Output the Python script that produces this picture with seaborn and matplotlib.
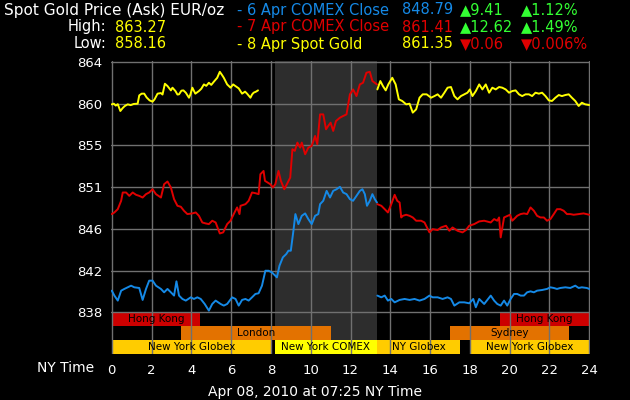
import matplotlib
matplotlib.use("Agg")
import matplotlib.pyplot as plt
import numpy as np
import seaborn as sns

# 8 Apr spot gold (yellow): overnight part, then the part after COMEX close
spot_hours_a = [0.00, 0.10, 0.20, 0.30, 0.43, 0.55, 0.65, 0.80, 0.95, 1.10, 1.30, 1.38, 1.50, 1.63, 1.75,
                1.90, 2.05, 2.15, 2.30, 2.47, 2.55, 2.67, 2.80, 2.97, 3.05, 3.20, 3.30, 3.38, 3.50, 3.60,
                3.72, 3.88, 3.95, 4.05, 4.20, 4.38, 4.50, 4.63, 4.75, 4.88, 5.00, 5.13, 5.30, 5.43, 5.55,
                5.63, 5.80, 5.97, 6.10, 6.20, 6.38, 6.55, 6.70, 6.80, 6.97, 7.05, 7.13, 7.25, 7.35]
spot_price_a = [859.58, 859.65, 859.45, 859.60, 858.89, 859.20, 859.40, 859.58, 859.50, 859.62, 859.65, 860.51,
                860.69, 860.69, 860.30, 859.99, 859.86, 860.10, 860.69, 860.75, 860.60, 861.72, 861.48, 861.03,
                861.31, 860.96, 860.60, 860.62, 861.00, 861.03, 860.79, 860.27, 860.60, 861.31, 860.69, 860.96,
                861.20, 861.65, 861.50, 861.82, 861.60, 861.93, 862.34, 862.96, 862.60, 862.34, 861.65, 861.31,
                861.65, 861.50, 861.24, 860.69, 860.90, 860.69, 860.27, 860.60, 860.79, 860.90, 861.03]
spot_hours_b = [13.35, 13.50, 13.63, 13.77, 13.90, 14.10, 14.27, 14.43, 14.60, 14.80, 14.97, 15.13, 15.30,
                15.47, 15.63, 15.83, 16.05, 16.22, 16.38, 16.55, 16.72, 16.88, 17.05, 17.22, 17.38, 17.55,
                17.72, 17.88, 18.00, 18.13, 18.30, 18.47, 18.63, 18.80, 18.97, 19.13, 19.30, 19.47, 19.63,
                19.80, 19.97, 20.13, 20.30, 20.47, 20.63, 20.80, 20.97, 21.13, 21.30, 21.47, 21.63, 21.80,
                21.97, 22.13, 22.30, 22.47, 22.63, 22.80, 22.97, 23.13, 23.30, 23.47, 23.63, 23.80, 24.00]
spot_price_b = [861.13, 862.00, 861.48, 861.03, 861.65, 862.34, 861.65, 860.10, 859.93, 859.58, 859.65, 858.72,
                859.06, 860.27, 860.62, 860.62, 860.27, 860.44, 860.62, 860.27, 860.79, 861.31, 861.38, 860.44,
                860.10, 860.44, 860.62, 860.79, 861.13, 860.44, 860.96, 861.65, 861.13, 861.65, 860.79, 861.31,
                861.13, 861.38, 861.31, 861.13, 860.79, 860.96, 861.03, 860.62, 860.44, 860.62, 860.62, 860.44,
                860.79, 860.69, 860.79, 860.44, 859.99, 859.93, 860.27, 860.55, 860.44, 860.55, 860.62, 860.27,
                859.93, 859.41, 859.75, 859.58, 859.51]

# 7 Apr COMEX close (red)
close7_hours_a = [0.00, 0.13, 0.30, 0.47, 0.55, 0.72, 0.88, 1.05, 1.22, 1.38, 1.55, 1.72, 1.88, 2.05, 2.22,
                  2.47, 2.63, 2.80, 2.97, 3.13, 3.30, 3.47, 3.63, 3.80, 4.05, 4.22, 4.38, 4.55, 4.72, 4.88,
                  5.05, 5.22, 5.43, 5.60, 5.80, 5.97, 6.13, 6.30, 6.42, 6.47, 6.72, 6.88, 7.05, 7.22, 7.38,
                  7.47, 7.63, 7.70, 7.97, 8.10, 8.22, 8.38, 8.50, 8.67, 8.80, 8.97, 9.08, 9.20, 9.33, 9.47,
                  9.55, 9.72, 9.88, 10.05, 10.22, 10.33, 10.47, 10.63, 10.77, 10.88, 11.00, 11.13, 11.27,
                  11.47, 11.63, 11.80, 11.97, 12.13, 12.30, 12.47, 12.63, 12.80, 12.97, 13.10, 13.22, 13.33]
close7_price_a = [848.19, 848.36, 848.70, 849.57, 850.43, 850.43, 850.08, 850.43, 850.19, 850.08, 849.91,
                  850.26, 850.43, 850.77, 850.26, 849.91, 851.29, 851.57, 850.95, 849.74, 849.05, 848.95,
                  848.53, 848.19, 848.26, 848.36, 848.01, 847.32, 847.22, 847.15, 847.50, 847.32, 846.18,
                  846.29, 847.15, 847.50, 848.19, 848.88, 848.19, 849.05, 849.22, 849.57, 850.43, 850.36,
                  850.26, 852.33, 852.67, 851.64, 851.29, 850.95, 851.29, 852.67, 851.64, 850.77, 851.29,
                  851.98, 854.92, 854.75, 855.61, 855.09, 855.61, 854.40, 855.09, 855.26, 856.30, 855.44,
                  858.54, 858.54, 856.99, 857.34, 857.68, 856.82, 857.85, 858.20, 858.37, 858.54, 860.62,
                  861.13, 860.44, 861.65, 861.82, 862.86, 862.96, 862.00, 861.82, 861.65]
close7_hours_b = [13.35, 13.55, 13.72, 13.88, 14.05, 14.22, 14.35, 14.47, 14.55, 14.63, 14.80, 14.97, 15.13,
                  15.30, 15.55, 15.72, 15.97, 16.13, 16.38, 16.55, 16.80, 16.97, 17.13, 17.38, 17.63, 17.80,
                  17.97, 18.22, 18.47, 18.72, 19.05, 19.22, 19.38, 19.47, 19.55, 19.72, 19.90, 20.02, 20.13,
                  20.22, 20.38, 20.55, 20.72, 20.88, 21.05, 21.22, 21.38, 21.55, 21.72, 21.88, 22.05, 22.22,
                  22.38, 22.55, 22.72, 22.88, 23.05, 23.22, 23.47, 23.72, 24.00]
close7_price_b = [849.22, 849.05, 848.70, 848.36, 849.22, 850.19, 849.57, 849.39, 847.84, 848.01, 848.12,
                  848.01, 847.84, 847.50, 847.50, 847.32, 846.29, 846.63, 846.53, 846.80, 846.98, 846.46,
                  846.80, 846.46, 846.29, 846.53, 846.98, 847.15, 847.43, 847.50, 847.32, 847.67, 847.50,
                  847.84, 845.77, 847.84, 848.01, 848.12, 847.50, 847.67, 848.01, 848.19, 848.26, 848.19,
                  848.88, 848.53, 848.01, 847.84, 847.84, 847.50, 847.67, 848.19, 848.70, 848.70, 848.53,
                  848.19, 848.19, 848.12, 848.19, 848.26, 848.12]

# 6 Apr COMEX close (blue)
close6_hours_a = [0.00, 0.13, 0.30, 0.47, 0.63, 0.80, 0.97, 1.13, 1.38, 1.55, 1.72, 1.88, 2.05, 2.22, 2.47,
                  2.63, 2.80, 2.97, 3.13, 3.25, 3.38, 3.55, 3.72, 3.97, 4.13, 4.30, 4.47, 4.67, 4.88, 5.05,
                  5.22, 5.47, 5.63, 5.80, 6.05, 6.22, 6.38, 6.55, 6.72, 6.88, 7.05, 7.22, 7.38, 7.55, 7.72,
                  7.88, 8.05, 8.30, 8.43, 8.60, 8.77, 8.88, 9.00, 9.13, 9.23, 9.38, 9.55, 9.72, 9.88, 10.05,
                  10.22, 10.38, 10.47, 10.63, 10.80, 10.97, 11.13, 11.30, 11.47, 11.63, 11.80, 11.97, 12.13,
                  12.30, 12.47, 12.60, 12.72, 12.83, 12.97, 13.10, 13.22, 13.33]
close6_price_a = [840.24, 839.73, 839.21, 840.24, 840.42, 840.59, 840.76, 840.59, 840.52, 839.28, 840.42,
                  841.28, 841.28, 840.76, 840.42, 840.07, 840.42, 840.07, 839.73, 841.21, 839.73, 839.38,
                  839.21, 839.55, 839.38, 839.55, 839.38, 838.86, 838.17, 838.86, 839.21, 838.86, 838.69,
                  838.86, 839.55, 839.38, 838.69, 839.28, 839.38, 839.21, 839.55, 839.90, 839.97, 840.76,
                  842.31, 842.31, 842.14, 841.62, 842.83, 843.70, 844.04, 844.39, 844.39, 846.46, 848.19,
                  847.15, 848.01, 848.26, 847.67, 847.15, 848.01, 848.19, 849.22, 849.57, 850.60, 849.91,
                  850.60, 850.77, 851.02, 850.43, 850.26, 849.74, 849.57, 850.08, 850.60, 850.77, 850.26,
                  849.05, 849.57, 850.26, 849.74, 849.39]
close6_hours_b = [13.35, 13.55, 13.72, 13.88, 14.05, 14.22, 14.47, 14.72, 14.97, 15.22, 15.47, 15.72, 15.97,
                  16.13, 16.38, 16.63, 16.88, 17.05, 17.22, 17.47, 17.72, 17.97, 18.17, 18.30, 18.47, 18.72,
                  19.05, 19.22, 19.38, 19.55, 19.72, 19.88, 20.05, 20.22, 20.38, 20.55, 20.72, 20.88, 21.05,
                  21.22, 21.38, 21.63, 21.88, 22.05, 22.22, 22.38, 22.55, 22.80, 23.05, 23.30, 23.47, 23.63,
                  23.88, 24.00]
close6_price_b = [839.73, 839.55, 839.73, 839.21, 839.38, 839.03, 839.28, 839.38, 839.28, 839.38, 839.21,
                  839.38, 839.73, 839.55, 839.55, 839.38, 839.55, 839.38, 838.69, 839.03, 839.03, 838.93,
                  839.38, 838.52, 839.38, 838.86, 839.73, 839.21, 838.86, 838.69, 839.21, 838.69, 839.38,
                  839.90, 839.90, 839.73, 839.73, 840.07, 840.17, 840.07, 840.24, 840.31, 840.42, 840.59,
                  840.52, 840.42, 840.52, 840.59, 840.52, 840.76, 840.52, 840.59, 840.52, 840.42]

# trading sessions shown as bars under the price lines
session_names = ["Hong Kong", "London", "New York Globex", "New York COMEX", "NY Globex",
                 "Sydney", "Hong Kong", "New York Globex"]
session_start = [0.0, 3.5, 0.0, 8.2, 13.33, 17.0, 19.5, 18.0]
session_end = [4.42, 11.0, 8.0, 13.33, 17.5, 23.0, 24.0, 24.0]
session_row = [0, 1, 2, 2, 2, 1, 0, 2]
session_color = ["#cc0000", "#e37200", "#ffcc00", "#ffff00", "#ffcc00", "#e37200", "#cc0000", "#ffcc00"]

comex_open, comex_close = 8.2, 13.33

y_ticks = [838, 842.333, 846.667, 851, 855.333, 859.667, 864]
y_tick_labels = ["838", "842", "846", "851", "855", "860", "864"]
x_ticks = list(range(0, 25, 2))

BLUE = "#1589e6"
RED = "#e00000"
YELLOW = "#ffff00"
GREEN = "#33ff33"
WHITE = "#ffffff"

sns.set_style("dark", {"axes.facecolor": "black", "figure.facecolor": "black"})
plt.rcParams["font.family"] = ["DejaVu Sans"]

fig = plt.figure(figsize=(6.3, 4.0), dpi=100)
ax = fig.add_axes([111 / 630, 1 - 354 / 400, 479 / 630, 293 / 400])

row_h = (y_ticks[1] - y_ticks[0]) / 3
y_bottom = 838 - 3 * row_h

# COMEX session shading
ax.axvspan(comex_open, comex_close, color="#2d2d2d", zorder=0.2, lw=0)

# session bars
for name, s, e, r, c in zip(session_names, session_start, session_end, session_row, session_color):
    yc = 838 - row_h * (r + 0.5)
    ax.barh(yc, e - s, left=s, height=row_h, color=c, lw=0, zorder=1)
    ax.text((s + e) / 2, yc, name, ha="center", va="center", fontsize=7.5, color="black", zorder=3)

# price lines
series = [
    (close6_hours_a, close6_price_a, BLUE), (close6_hours_b, close6_price_b, BLUE),
    (close7_hours_a, close7_price_a, RED), (close7_hours_b, close7_price_b, RED),
    (spot_hours_a, spot_price_a, YELLOW), (spot_hours_b, spot_price_b, YELLOW),
]
for hrs, prc, col in series:
    sns.lineplot(x=hrs, y=prc, color=col, lw=1.4, ax=ax, sort=False, estimator=None, zorder=4)

ax.set_axisbelow("line")
ax.grid(True, color="#707070", lw=1)
ax.set_xlim(-0.04, 24.04)
ax.set_ylim(y_bottom, 864.08)
ax.set_xticks(x_ticks)
ax.set_xticklabels([str(t) for t in x_ticks])
ax.set_yticks(y_ticks)
ax.set_yticklabels(y_tick_labels)
ax.tick_params(colors=WHITE, labelsize=9.5, length=0)
ax.tick_params(axis="x", pad=7)
ax.tick_params(axis="y", pad=6)
ax.set_xlabel("")
ax.set_ylabel("")
for sp in ax.spines.values():
    sp.set_visible(False)


def px(x, y, s, color=WHITE, ha="left", size=10.5):
    fig.text(x / 630, 1 - y / 400, s, color=color, ha=ha, va="center", fontsize=size)


# header
px(4, 10, "Spot Gold Price (Ask) EUR/oz", size=11)
px(106, 27, "High:", ha="right")
px(115, 27, "863.27", YELLOW)
px(106, 44, "Low:", ha="right")
px(115, 44, "858.16", YELLOW)

px(237, 10, "- 6 Apr COMEX Close", BLUE)
px(402, 10, "848.79", BLUE)
px(460, 10, "\u25b29.41", GREEN)
px(521, 10, "\u25b21.12%", GREEN)

px(237, 27, "- 7 Apr COMEX Close", RED)
px(402, 27, "861.41", RED)
px(460, 27, "\u25b212.62", GREEN)
px(521, 27, "\u25b21.49%", GREEN)

px(237, 44, "- 8 Apr Spot Gold", YELLOW)
px(402, 44, "861.35", YELLOW)
px(460, 44, "\u25bc0.06", RED)
px(521, 44, "\u25bc0.006%", RED)

# footer
px(94, 368, "NY Time", ha="right", size=10)
px(315, 392, "Apr 08, 2010 at 07:25 NY Time", ha="center", size=10)

fig.savefig("out.png", dpi=100, facecolor="black")
